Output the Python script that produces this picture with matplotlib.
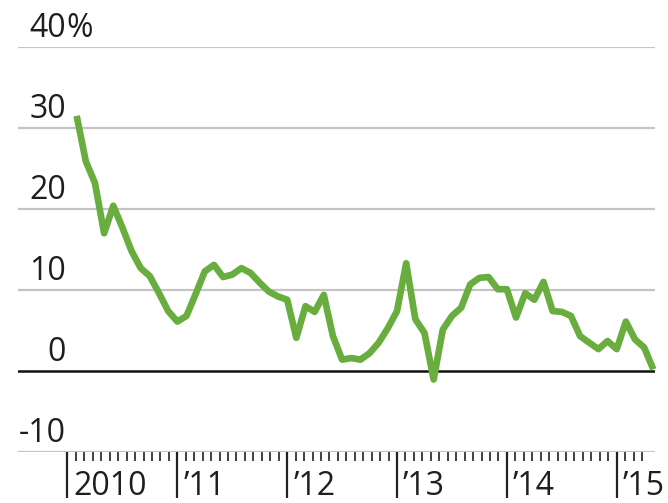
import matplotlib
matplotlib.use("Agg")
import matplotlib.pyplot as plt
import numpy as np

plt.rcParams['font.family'] = ['Open Sans', 'DejaVu Sans']

# Monthly values, Feb 2010 .. May 2015 (percent)
start_year = 2010
start_month = 2
values = [31.5, 25.9, 23.2, 17.0, 20.4, 17.7, 14.8, 12.7, 11.7, 9.6, 7.4,
          6.1, 6.8, 9.5, 12.3, 13.1, 11.6, 11.9, 12.7, 12.1, 10.9, 9.8, 9.2,
          8.8, 4.1, 8.0, 7.3, 9.4, 4.3, 1.4, 1.6, 1.4, 2.2, 3.5, 5.3, 7.4,
          13.3, 6.4, 4.7, -1.05, 5.1, 6.8, 7.8, 10.7, 11.5, 11.6, 10.1, 10.1,
          6.6, 9.6, 8.8, 11.0, 7.4, 7.3, 6.8, 4.3, 3.5, 2.7, 3.7, 2.7, 6.1,
          3.9, 2.9, 0.2]

y_ticks = [-10, 0, 10, 20, 30, 40]
y_labels = ['-10', '0', '10', '20', '30', '40']
years = [2010, 2011, 2012, 2013, 2014, 2015]
year_labels = ['2010', '\u201911', '\u201912', '\u201913', '\u201914', '\u201915']

W, H = 668, 503
fig = plt.figure(figsize=(W / 100, H / 100), dpi=100)
ax_left, ax_right = 18, 655
ax_top, ax_bot = 47, 452
ax = fig.add_axes([ax_left / W, 1 - ax_bot / H, (ax_right - ax_left) / W, (ax_bot - ax_top) / H])

px_per_year = (616.7 - 67.5) / 5
x0 = 2010 - (67.5 - ax_left) / px_per_year
x1 = 2015 + (ax_right - 616.7) / px_per_year
ax.set_xlim(x0, x1)
ax.set_ylim(-10, 40)
for s in ax.spines.values():
    s.set_visible(False)

green = '#69ad3e'
grid_gray = '#c4c4c4'
text_color = '#1e1e1e'

for v in y_ticks:
    if v == 0:
        ax.axhline(v, color='#111111', lw=1.8, zorder=2)
    else:
        ax.axhline(v, color=grid_gray, lw=1.6, zorder=1)

xs = [start_year + (start_month - 1 + i) / 12 for i in range(len(values))]
ax.plot(xs, values, color=green, lw=4.8, solid_joinstyle='round',
        solid_capstyle='butt', zorder=3, clip_on=False)

# Ticks
minor = []
for y in years:
    n = 12 if y < years[-1] else 3
    for k in range(1, n + 1):
        minor.append(y + k / 13)
ax.set_xticks(years)
ax.set_xticks(minor, minor=True)
ax.set_xticklabels([])
ax.tick_params(axis='x', which='major', direction='out', length=33, width=1.6,
               color='#222222', labelbottom=False)
ax.tick_params(axis='x', which='minor', direction='out', length=6.5, width=1.3,
               color='#333333', labelbottom=False)
ax.set_yticks([])

for y, lab in zip(years, year_labels):
    ax.annotate(lab, xy=(y, 0), xycoords=('data', 'axes fraction'),
                xytext=(6, -43), textcoords='offset pixels',
                ha='left', va='baseline', fontsize=23, color=text_color)

for v, lab in zip(y_ticks, y_labels):
    ax.annotate(lab, xy=(0, v), xycoords=('axes fraction', 'data'),
                xytext=(48, 10), textcoords='offset pixels',
                ha='right', va='baseline', fontsize=23, color=text_color)
    if v == 40:
        ax.annotate('%', xy=(0, v), xycoords=('axes fraction', 'data'),
                    xytext=(48, 10), textcoords='offset pixels',
                    ha='left', va='baseline', fontsize=23, color=text_color)

fig.savefig('out.png', dpi=100)
